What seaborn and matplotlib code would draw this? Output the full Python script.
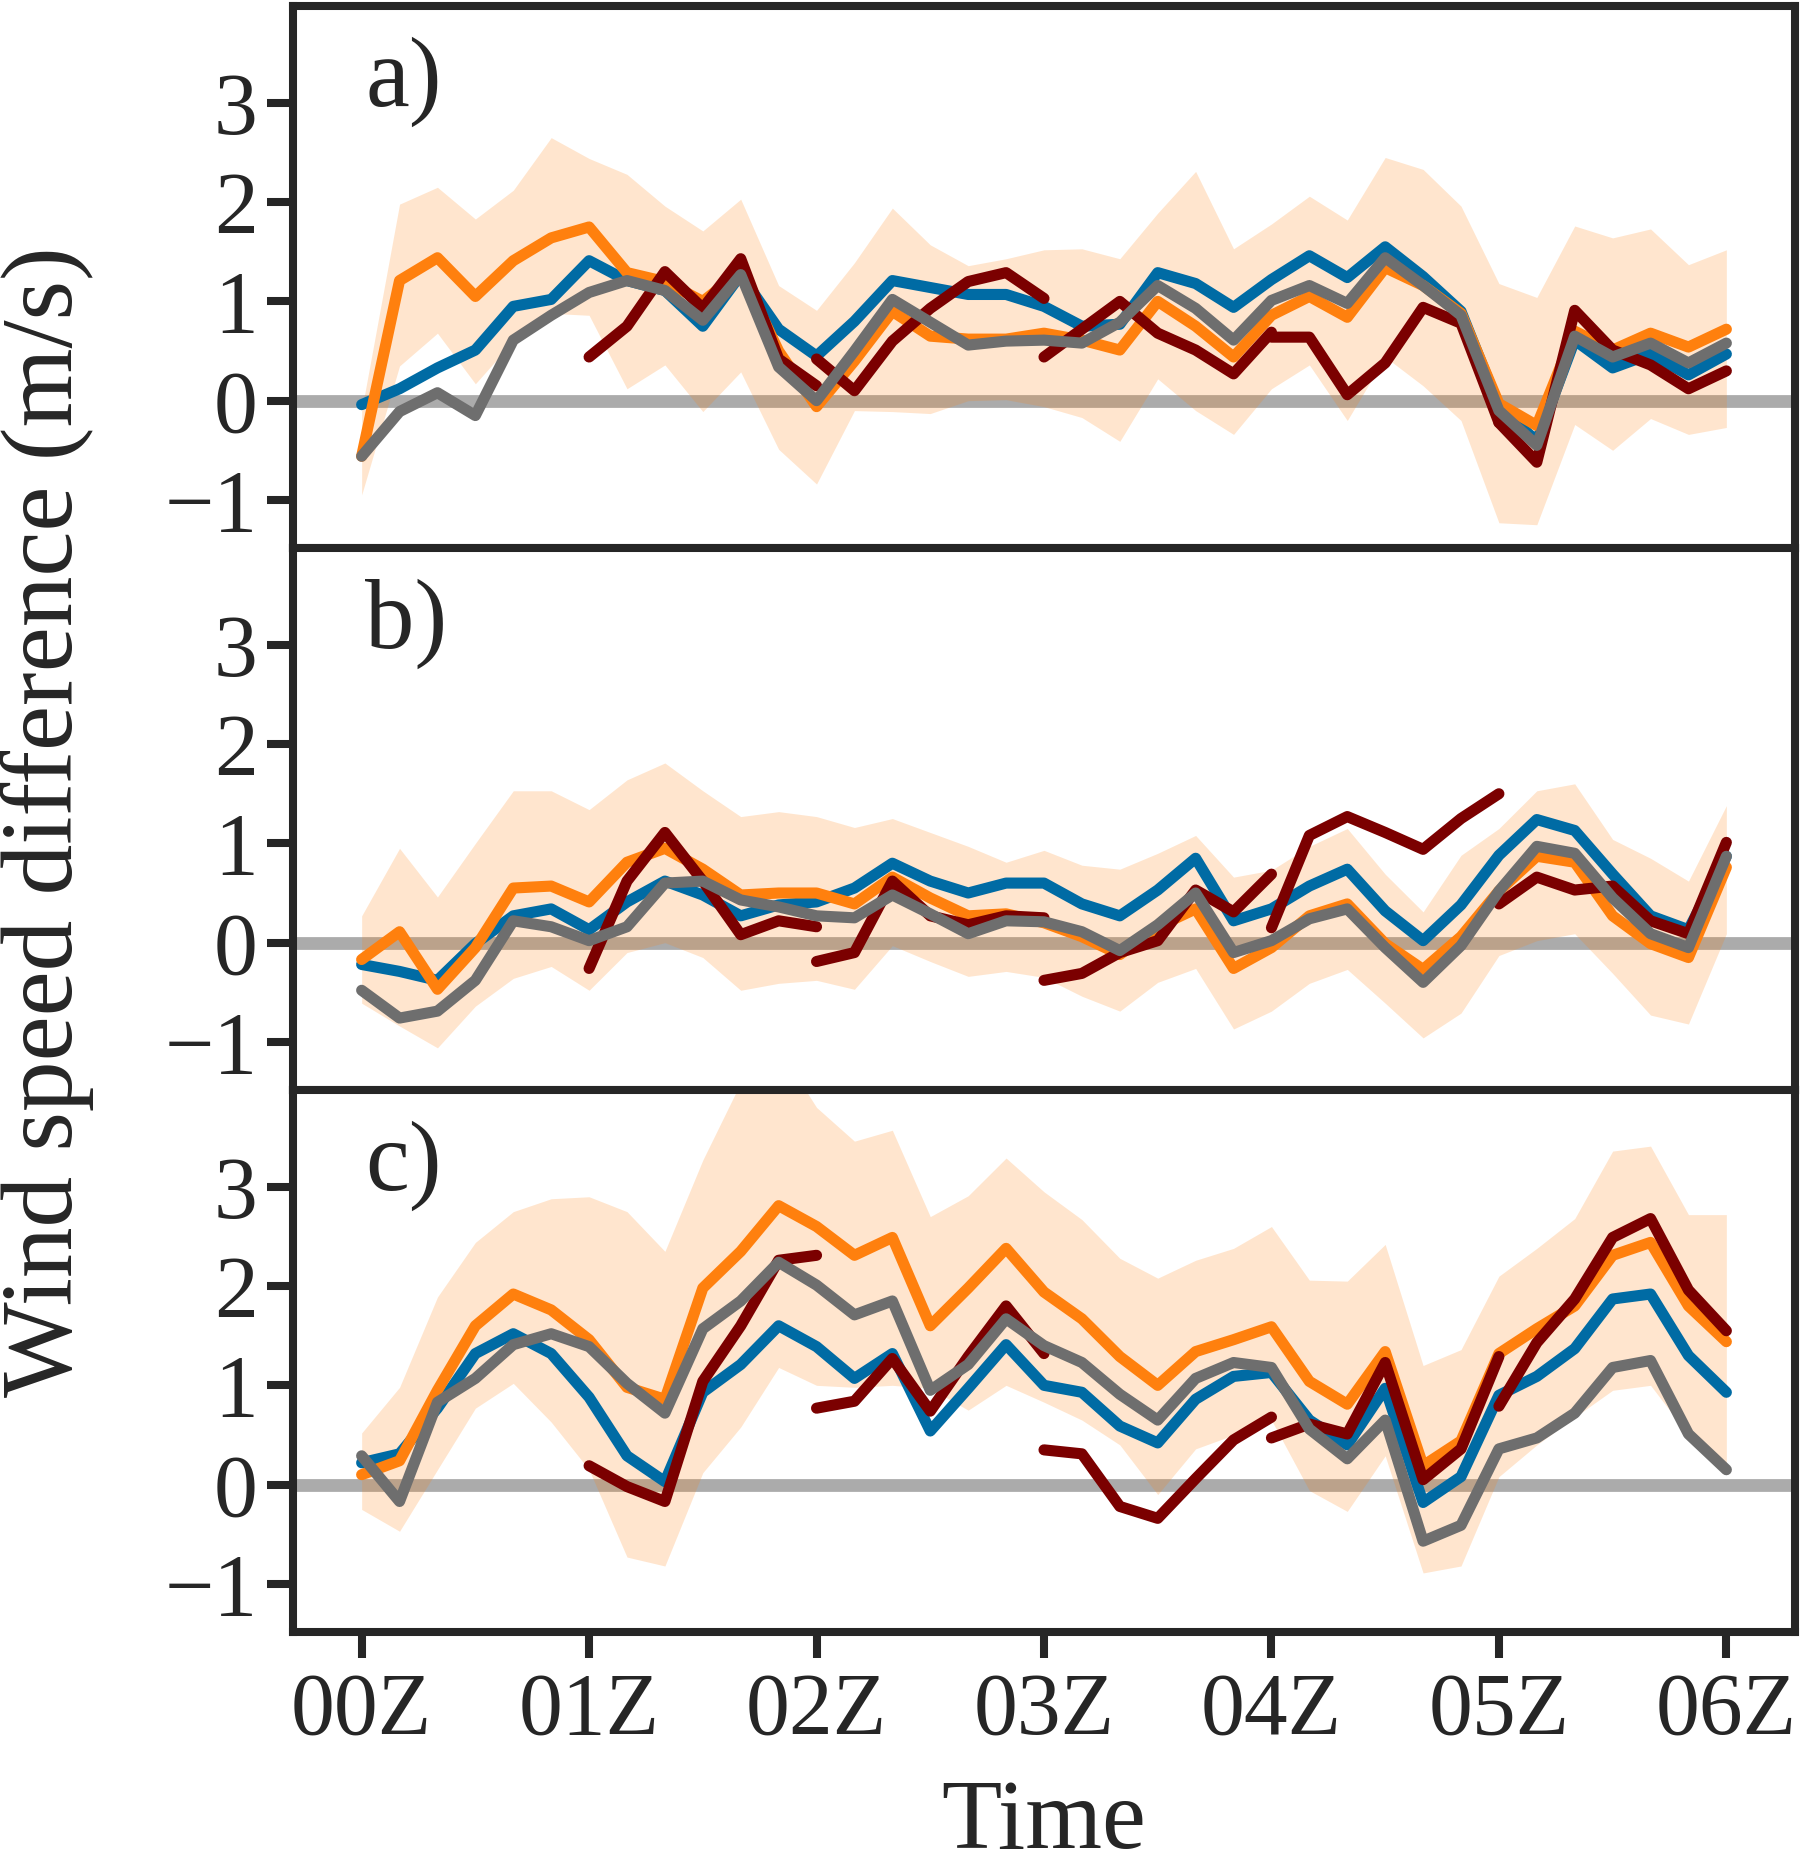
"""Wind speed difference time series, three panels, seaborn lines."""
import matplotlib
matplotlib.use('Agg')
import matplotlib.pyplot as plt
import numpy as np
import seaborn as sns

# time axis: every 10 minutes from 00Z to 06Z (in hours)
minutes = np.arange(0, 361, 10)
times = minutes / 60
hour_labels = ['00Z', '01Z', '02Z', '03Z', '04Z', '05Z', '06Z']
panel_labels = ['a)', 'b)', 'c)']

# ---- panel a ----
blue_a = [-0.04, 0.12, 0.33, 0.51, 0.95, 1.02, 1.41, 1.21, 1.11, 0.75, 1.27, 0.72, 0.45,
          0.80, 1.21, 1.14, 1.07, 1.07, 0.95, 0.75, 0.77, 1.29, 1.18, 0.94, 1.22, 1.46,
          1.24, 1.55, 1.25, 0.90, -0.06, -0.41, 0.61, 0.33, 0.47, 0.26, 0.47]
orange_a = [-0.56, 1.21, 1.44, 1.05, 1.41, 1.64, 1.75, 1.29, 1.20, 1.00, 1.30, 0.50, -0.06,
            0.40, 0.90, 0.65, 0.62, 0.62, 0.68, 0.61, 0.51, 1.00, 0.75, 0.44, 0.86, 1.05,
            0.84, 1.34, 1.16, 0.88, -0.03, -0.25, 0.70, 0.51, 0.68, 0.54, 0.72]
gray_a = [-0.56, -0.11, 0.08, -0.15, 0.61, 0.86, 1.09, 1.21, 1.11, 0.81, 1.27, 0.34, 0.00,
          0.50, 1.02, 0.79, 0.56, 0.60, 0.61, 0.58, 0.79, 1.16, 0.93, 0.61, 1.01, 1.16,
          0.98, 1.44, 1.16, 0.86, -0.10, -0.45, 0.65, 0.44, 0.58, 0.38, 0.58]
red_a = [[0.44, 0.75, 1.30, 0.93, 1.43, 0.42, 0.15],
         [0.42, 0.10, 0.60, 0.93, 1.20, 1.29, 1.03],
         [0.44, 0.72, 1.00, 0.68, 0.51, 0.27, 0.69],
         [0.64, 0.64, 0.06, 0.38, 0.94, 0.78, -0.22],
         [-0.22, -0.62, 0.91, 0.51, 0.36, 0.12, 0.30]]
upper_a = [-0.10, 1.98, 2.15, 1.83, 2.12, 2.65, 2.44, 2.28, 1.96, 1.71, 2.03, 1.16, 0.91,
           1.39, 1.94, 1.57, 1.36, 1.43, 1.52, 1.53, 1.43, 1.89, 2.31, 1.53, 1.78, 2.06,
           1.82, 2.45, 2.33, 1.96, 1.18, 1.04, 1.76, 1.64, 1.73, 1.37, 1.52]
lower_a = [-0.95, 0.35, 0.68, 0.17, 0.60, 0.88, 0.86, 0.12, 0.36, -0.11, 0.29, -0.49, -0.84,
           -0.10, -0.11, -0.13, 0.00, 0.01, -0.06, -0.17, -0.41, 0.22, -0.10, -0.34, 0.12,
           0.36, -0.20, 0.44, 0.15, -0.20, -1.23, -1.25, -0.24, -0.50, -0.18, -0.34, -0.27]

# ---- panel b ----
blue_b = [-0.22, -0.29, -0.38, -0.01, 0.27, 0.34, 0.13, 0.41, 0.62, 0.48, 0.27, 0.38, 0.41,
          0.55, 0.80, 0.62, 0.50, 0.60, 0.60, 0.39, 0.27, 0.53, 0.85, 0.22, 0.34, 0.57,
          0.74, 0.32, 0.02, 0.38, 0.88, 1.24, 1.13, 0.69, 0.27, 0.13, 0.87]
orange_b = [-0.17, 0.11, -0.47, -0.05, 0.55, 0.57, 0.41, 0.81, 0.95, 0.74, 0.48, 0.50, 0.50,
            0.39, 0.66, 0.45, 0.27, 0.29, 0.20, 0.06, -0.12, 0.16, 0.34, -0.26, -0.05, 0.27,
            0.39, -0.01, -0.27, 0.06, 0.52, 0.87, 0.81, 0.27, -0.01, -0.15, 0.76]
gray_b = [-0.48, -0.76, -0.69, -0.38, 0.22, 0.16, 0.02, 0.16, 0.60, 0.62, 0.43, 0.36, 0.27,
          0.25, 0.48, 0.29, 0.09, 0.22, 0.21, 0.11, -0.08, 0.18, 0.50, -0.10, 0.02, 0.24,
          0.34, -0.05, -0.40, -0.03, 0.52, 0.97, 0.90, 0.45, 0.09, -0.05, 0.87]
red_b = [[-0.26, 0.62, 1.11, 0.62, 0.08, 0.22, 0.16],
         [-0.19, -0.10, 0.62, 0.27, 0.18, 0.27, 0.25],
         [-0.38, -0.31, -0.10, 0.02, 0.53, 0.31, 0.69],
         [0.15, 1.08, 1.27, 1.11, 0.94, 1.25, 1.50],
         [0.39, 0.66, 0.53, 0.57, 0.22, 0.09, 1.01]]
upper_b = [0.27, 0.95, 0.46, 1.00, 1.53, 1.53, 1.34, 1.64, 1.81, 1.53, 1.27, 1.32, 1.27,
           1.16, 1.25, 1.11, 0.97, 0.81, 0.93, 0.78, 0.74, 0.90, 1.08, 0.66, 0.73, 0.97,
           1.15, 0.69, 0.31, 0.88, 1.15, 1.53, 1.60, 1.04, 0.85, 0.62, 1.38]
lower_b = [-0.61, -0.84, -1.06, -0.64, -0.36, -0.24, -0.48, -0.10, 0.00, -0.15, -0.48, -0.41,
           -0.38, -0.47, -0.03, -0.19, -0.34, -0.29, -0.35, -0.54, -0.69, -0.40, -0.26, -0.87,
           -0.69, -0.41, -0.27, -0.61, -0.96, -0.71, -0.13, 0.02, 0.09, -0.31, -0.73, -0.82, 0.09]

# ---- panel c ----
blue_c = [0.22, 0.31, 0.77, 1.32, 1.52, 1.32, 0.88, 0.29, 0.03, 0.93, 1.21, 1.60, 1.39,
          1.07, 1.32, 0.54, 0.97, 1.41, 1.00, 0.93, 0.59, 0.42, 0.86, 1.09, 1.13, 0.65,
          0.40, 0.97, -0.18, 0.08, 0.90, 1.09, 1.37, 1.87, 1.92, 1.30, 0.93]
orange_c = [0.10, 0.24, 0.95, 1.60, 1.92, 1.76, 1.46, 0.98, 0.86, 1.98, 2.35, 2.81, 2.60,
            2.31, 2.49, 1.60, 1.98, 2.38, 1.94, 1.67, 1.29, 1.00, 1.34, 1.46, 1.59, 1.04,
            0.81, 1.34, 0.19, 0.44, 1.32, 1.57, 1.80, 2.31, 2.44, 1.80, 1.44]
gray_c = [0.29, -0.17, 0.83, 1.07, 1.41, 1.52, 1.39, 1.02, 0.72, 1.57, 1.85, 2.24, 2.01,
          1.71, 1.85, 0.95, 1.21, 1.67, 1.40, 1.23, 0.91, 0.65, 1.07, 1.23, 1.18, 0.56,
          0.26, 0.65, -0.57, -0.41, 0.36, 0.47, 0.72, 1.18, 1.25, 0.51, 0.15]
red_c = [[0.19, -0.02, -0.17, 1.04, 1.60, 2.26, 2.31],
         [0.77, 0.84, 1.27, 0.74, 1.29, 1.80, 1.32],
         [0.35, 0.31, -0.22, -0.34, 0.06, 0.45, 0.68],
         [0.47, 0.61, 0.51, 1.23, 0.05, 0.36, 1.29],
         [0.79, 1.43, 1.87, 2.49, 2.68, 1.96, 1.55]]
upper_c = [0.52, 0.98, 1.89, 2.44, 2.75, 2.88, 2.90, 2.75, 2.35, 3.27, 4.05, 4.40, 3.80,
           3.46, 3.57, 2.70, 2.91, 3.29, 2.95, 2.67, 2.28, 2.08, 2.26, 2.38, 2.60, 2.06,
           2.05, 2.42, 1.20, 1.36, 2.10, 2.38, 2.68, 3.36, 3.41, 2.72, 2.72]
lower_c = [-0.25, -0.47, 0.15, 0.77, 1.02, 0.63, 0.15, -0.73, -0.82, 0.12, 0.58, 1.18, 1.00,
           0.98, 1.00, 0.97, 0.75, 1.00, 0.83, 0.65, 0.40, -0.10, 0.36, 0.50, 0.65, -0.06,
           -0.27, 0.29, -0.89, -0.82, 0.08, 0.40, 0.68, 0.95, 1.00, 0.50, 0.22]

panels = [
    (blue_a, orange_a, gray_a, red_a, upper_a, lower_a),
    (blue_b, orange_b, gray_b, red_b, upper_b, lower_b),
    (blue_c, orange_c, gray_c, red_c, upper_c, lower_c),
]

BLUE = '#006BA4'
ORANGE = '#FF800E'
GRAY = '#6E6E6E'
DARKRED = '#7B0000'
ZERO = '#ABABAB'

sns.set_style('ticks')
plt.rcParams['font.family'] = ['Liberation Serif', 'DejaVu Serif']
plt.rcParams['axes.linewidth'] = 2.9

line_kw = dict(linewidth=4.0, solid_capstyle='round', solid_joinstyle='round', legend=False)

fig, axes = plt.subplots(3, 1, sharex=True, figsize=(9, 9.355), dpi=200)
fig.subplots_adjust(left=0.163, right=0.997, top=0.997, bottom=0.128, hspace=0)

for ax, label, (blue, orange, gray, reds, upper, lower) in zip(axes, panel_labels, panels):
    ax.axhline(0, color=ZERO, lw=4.6, zorder=1)
    ax.fill_between(times, lower, upper, color=ORANGE, alpha=0.2, lw=0, zorder=1.5)
    sns.lineplot(x=times, y=blue, ax=ax, color=BLUE, zorder=2, **line_kw)
    sns.lineplot(x=times, y=orange, ax=ax, color=ORANGE, zorder=3, **line_kw)
    # the dark red series restarts every hour
    for h, seg in enumerate(reds, start=1):
        sns.lineplot(x=times[6 * h:6 * h + 7], y=seg, ax=ax, color=DARKRED,
                     zorder=4, **line_kw)
    sns.lineplot(x=times, y=gray, ax=ax, color=GRAY, zorder=5, **line_kw)

    ax.set_xlim(-0.3, 6.3)
    ax.set_ylim(-1.48, 3.98)
    ax.set_yticks([-1, 0, 1, 2, 3])
    ax.set_ylabel('')
    ax.tick_params(axis='both', length=9.4, width=2.9, labelsize=31.5, pad=3.5)
    for sp in ax.spines.values():
        sp.set_linewidth(2.9)
    ax.text(0.048, 0.815, label, transform=ax.transAxes, fontsize=35.5, va='baseline')

for ax in axes[:2]:
    ax.tick_params(axis='x', bottom=False, labelbottom=False)

axes[2].set_xticks(range(7))
axes[2].set_xticklabels(hour_labels)
axes[2].tick_params(axis='x', pad=5)

fig.text(0.58, 0.001, 'Time', fontsize=35.5, ha='center', va='bottom')
fig.text(0.026, 0.561, 'Wind speed difference (m/s)', fontsize=36.5,
         rotation=90, ha='center', va='center')

fig.savefig('out.png', dpi=200)
